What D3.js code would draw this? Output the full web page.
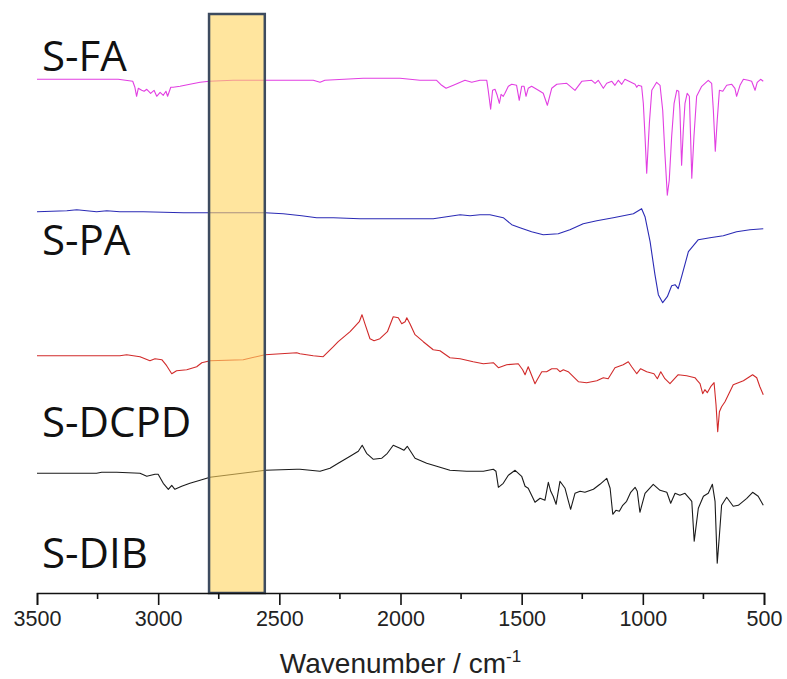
<!DOCTYPE html>
<html>
<head>
<meta charset="utf-8">
<script src="https://cdn.jsdelivr.net/npm/d3@7"></script>
<style>
  body { margin: 0; background: #fff; }
  .lbl { font-family: "Open Sans", sans-serif; font-size: 42px; fill: #111; }
  .tick text { font-family: "Liberation Sans", Arial, sans-serif; font-size: 21.5px; fill: #222; }
  .xtitle { font-family: "Liberation Sans", Arial, sans-serif; font-size: 28px; fill: #222; }
</style>
</head>
<body>
<div class="canvas"></div>
<script>
// spectra: [wavenumber, relative transmittance (offset removed)]
const sFA = [
  [3500,0],[3165,0],[3105,-0.2],[3096,-0.8],[3089,-1.7],[3082,-0.9],[3068,-1.1],[3058,-1.2],
  [3047,-1.0],[3031,-1.4],[3017,-1.1],[3006,-1.7],[2992,-1.3],[2979,-1.6],[2968,-1.2],[2961,-1.7],
  [2948,-0.8],[2938,-0.8],[2910,-0.7],[2869,-0.5],[2827,-0.3],[2789,-0.2],[2691,-0.1],[2559,-0.1],
  [2360,-0.1],[2332,-0.3],[2312,-0.1],[2154,0.1],[2002,0.1],[1920,-0.1],[1851,-0.1],[1830,-0.6],
  [1812,-0.9],[1782,-0.6],[1734,-0.1],[1706,-0.3],[1672,-0.1],[1644,-0.1],[1638,-1.1],[1628,-3.0],
  [1620,-1.1],[1610,-1.0],[1601,-1.6],[1592,-2.4],[1585,-1.5],[1576,-1.7],[1569,-1.4],[1555,-0.7],
  [1541,-0.5],[1521,-0.6],[1510,-2.1],[1500,-0.7],[1490,-0.7],[1482,-1.7],[1473,-0.9],[1459,-0.7],
  [1431,-1.1],[1411,-1.4],[1394,-2.6],[1376,-0.9],[1355,-0.5],[1314,-0.4],[1280,-1.1],[1252,-0.2],
  [1211,-0.1],[1197,-0.4],[1184,-0.1],[1163,-0.9],[1149,-0.4],[1128,-0.2],[1115,-0.6],[1101,-0.1],
  [1087,-0.5],[1074,0],[1032,-0.5],[1025,-0.8],[1019,-0.6],[1005,-0.7],[998,-2.4],[991,-5.7],
  [984,-9.4],[973,-4.4],[963,-1.1],[943,-0.3],[929,-0.6],[918,-3.1],[909,-7.4],[899,-11.6],
  [891,-10.1],[881,-5.7],[871,-2.4],[860,-1.1],[852,-1.2],[847,-3.1],[840,-8.6],[833,-5.1],
  [826,-2.4],[817,-1.4],[808,-1.7],[803,-5.7],[798,-9.9],[789,-5.7],[778,-1.7],[757,-0.7],
  [730,-0.1],[716,-0.4],[709,-3.1],[701,-7.2],[693,-4.1],[684,-1.1],[670,-1.2],[654,-0.6],
  [633,-0.5],[620,-0.9],[613,-1.7],[599,-0.6],[585,0],[565,-0.1],[551,-0.2],[537,-1.1],
  [528,-0.3],[514,0],[503,-0.2]
];

const sPA = [
  [3500,0],[3377,0.1],[3336,0.2],[3254,0],[3212,0.1],[3158,0],[3103,0],[3061,0],[2896,-0.1],
  [2789,-0.1],[2559,-0.1],[2484,-0.2],[2408,-0.4],[2346,-0.6],[2277,-0.6],[2167,-0.7],[2002,-0.7],
  [1865,-0.7],[1754,-0.3],[1713,-0.4],[1672,-0.3],[1631,-0.3],[1576,-0.6],[1541,-1.3],[1507,-1.6],
  [1459,-2.0],[1411,-2.3],[1349,-2.2],[1301,-1.8],[1246,-1.2],[1190,-0.9],[1122,-0.6],[1039,-0.2],
  [1005,0.3],[991,-0.5],[970,-3.0],[950,-6.3],[936,-8.3],[918,-9.1],[899,-8.5],[881,-7.4],
  [867,-7.3],[854,-7.7],[840,-6.5],[812,-4.0],[771,-2.8],[723,-2.6],[668,-2.4],[613,-2.0],
  [558,-1.8],[503,-1.7]
];

const sDCPD = [
  [3500,0],[3158,0],[3130,0.1],[3075,-0.1],[3034,-0.5],[3013,-0.3],[2985,-0.4],[2965,-1.0],
  [2944,-1.8],[2924,-1.5],[2882,-1.4],[2841,-1.1],[2820,-0.7],[2786,-0.5],[2649,-0.4],[2559,0.1],
  [2428,0.3],[2415,0.2],[2360,0],[2319,-0.1],[2277,0.9],[2257,1.4],[2208,2.4],[2170,3.4],
  [2159,4.1],[2147,3.2],[2126,1.7],[2109,1.5],[2085,1.7],[2054,2.4],[2030,3.9],[2009,3.8],
  [1995,3.2],[1981,3.4],[1974,3.8],[1961,3.2],[1940,2.1],[1906,1.4],[1865,0.6],[1837,0.5],
  [1796,-0.2],[1754,-0.3],[1700,-0.6],[1658,-0.8],[1617,-0.7],[1596,-1.2],[1562,-0.9],[1514,-0.8],
  [1496,-1.4],[1486,-1.9],[1473,-1.1],[1445,-2.8],[1436,-2.4],[1417,-1.6],[1397,-1.6],[1376,-1.3],
  [1355,-1.3],[1342,-1.6],[1328,-1.4],[1308,-1.6],[1266,-2.6],[1232,-2.7],[1190,-2.5],[1163,-2.2],
  [1143,-2.3],[1115,-1.2],[1081,-0.9],[1060,-0.6],[1046,-1.1],[1025,-1.8],[1009,-1.3],[984,-1.6],
  [954,-1.8],[940,-2.3],[926,-1.6],[909,-2.3],[888,-2.8],[854,-1.9],[819,-2.0],[785,-2.2],
  [775,-2.5],[764,-2.8],[753,-3.8],[744,-3.4],[734,-3.7],[720,-3.1],[706,-2.7],[698,-4.9],
  [691,-7.6],[684,-5.6],[675,-5.1],[661,-4.6],[627,-2.9],[606,-2.7],[585,-2.5],[547,-1.9],
  [530,-2.2],[517,-3.1],[503,-3.9]
];

const sDIB = [
  [3500,0],[3254,0],[3233,0.1],[3171,0.1],[3075,0],[3047,-0.3],[3013,-0.1],[3000,-0.1],
  [2979,-1.0],[2958,-1.6],[2944,-1.2],[2931,-1.6],[2903,-1.3],[2869,-1.0],[2827,-0.7],[2786,-0.4],
  [2559,0.3],[2428,0.4],[2415,0.4],[2373,0.3],[2332,0.2],[2291,0.5],[2257,1.0],[2208,1.7],
  [2174,2.2],[2158,2.8],[2140,2.0],[2112,1.4],[2078,1.5],[2054,2.0],[2030,2.8],[2002,2.5],
  [1986,2.3],[1972,2.7],[1940,1.5],[1892,1.0],[1837,0.6],[1796,0.3],[1727,0.2],[1658,0.2],
  [1617,0.4],[1606,0.2],[1596,-1.4],[1576,-1.0],[1555,-0.2],[1527,0.3],[1500,-0.3],[1486,-1.3],
  [1473,-1.5],[1459,-2.2],[1445,-2.9],[1424,-2.5],[1404,-2.7],[1390,-0.9],[1380,-1.8],[1370,-2.3],
  [1358,-3.1],[1342,-0.8],[1321,-1.5],[1308,-2.7],[1298,-3.6],[1280,-2.0],[1259,-1.8],[1239,-1.9],
  [1204,-1.6],[1177,-1.1],[1149,-0.5],[1135,-1.5],[1124,-4.1],[1111,-3.7],[1097,-3.8],[1083,-3.2],
  [1067,-2.8],[1050,-1.9],[1032,-1.4],[1023,-1.8],[1012,-3.9],[991,-2.0],[957,-1.1],[929,-1.7],
  [901,-1.9],[885,-3.0],[867,-2.0],[847,-2.2],[826,-2.0],[808,-2.5],[798,-2.8],[788,-6.8],
  [771,-3.5],[750,-2.3],[730,-2.0],[713,-1.1],[702,-2.8],[693,-9.0],[684,-6.2],[675,-3.2],
  [654,-2.4],[627,-3.3],[606,-3.2],[571,-2.5],[547,-1.9],[524,-2.3],[503,-3.2]
];

const seriesNames = ['S-FA', 'S-PA', 'S-DCPD', 'S-DIB'];
const seriesData = [sFA, sPA, sDCPD, sDIB];
const seriesOffsets = [51.37, 38.13, 23.73, 11.97];
const seriesColors = ['#e23fe2', '#2b2bb5', '#d12a2a', '#1a1a1a'];
const labelOffsets = [52.2, 33.8, 15.6, 2.5];
const highlightBand = [2790, 2560];
const xTicks = [3500, 3000, 2500, 2000, 1500, 1000, 500];

const width = 787;
const height = 679;

const svg = d3.select('.canvas')
    .append('svg')
    .attr('width', width)
    .attr('height', height);

const x = d3.scaleLinear()
    .domain([3500, 500])
    .range([37, 764]);

const y = d3.scaleLinear()
    .domain([0, 58])
    .range([593, 13]);

////////// SPECTRA ///////////////////
const line = d3.line()
    .x(d => x(d[0]))
    .y(d => y(d[1]));

seriesData.forEach((s, i) => {
    svg.append('path')
        .datum(s.map(d => [d[0], d[1] + seriesOffsets[i]]))
        .attr('fill', 'none')
        .attr('stroke', seriesColors[i])
        .attr('stroke-width', 1.1)
        .attr('stroke-linejoin', 'round')
        .attr('d', line);
});

////////// LABELS ///////////////////
svg.selectAll('text.lbl')
    .data(seriesNames)
    .enter()
    .append('text')
    .attr('class', 'lbl')
    .attr('x', 42)
    .attr('y', (d, i) => y(labelOffsets[i]))
    .text(d => d);

////////// HIGHLIGHT BOX ///////////////////
svg.append('rect')
    .attr('x', x(highlightBand[0]))
    .attr('y', 14)
    .attr('width', x(highlightBand[1]) - x(highlightBand[0]))
    .attr('height', y(0) - 14)
    .attr('fill', '#ffd45e')
    .attr('fill-opacity', 0.6)
    .attr('stroke', '#3d4b5f')
    .attr('stroke-width', 2.5);

////////// AXIS ///////////////////
const xAxis = d3.axisBottom(x)
    .tickValues(xTicks)
    .tickSize(12)
    .tickPadding(6)
    .tickFormat(d3.format('d'));

const gX = svg.append('g')
    .attr('transform', `translate(0, ${y(0)})`)
    .call(xAxis);

gX.select('.domain').attr('stroke', '#111').attr('stroke-width', 1.6);
gX.selectAll('.tick line').attr('stroke', '#111').attr('stroke-width', 1.6);

// minor ticks
gX.selectAll('.minor')
    .data(d3.range(3250, 500, -500))
    .enter()
    .append('line')
    .attr('class', 'minor')
    .attr('x1', d => x(d))
    .attr('x2', d => x(d))
    .attr('y1', 0)
    .attr('y2', 6)
    .attr('stroke', '#111')
    .attr('stroke-width', 1.6);

const title = svg.append('text')
    .attr('class', 'xtitle')
    .attr('x', (x.range()[0] + x.range()[1]) / 2)
    .attr('y', 673)
    .attr('text-anchor', 'middle');

title.append('tspan').text('Wavenumber / cm');
title.append('tspan')
    .attr('dy', -11)
    .attr('font-size', '17px')
    .text('-1');
</script>
</body>
</html>
